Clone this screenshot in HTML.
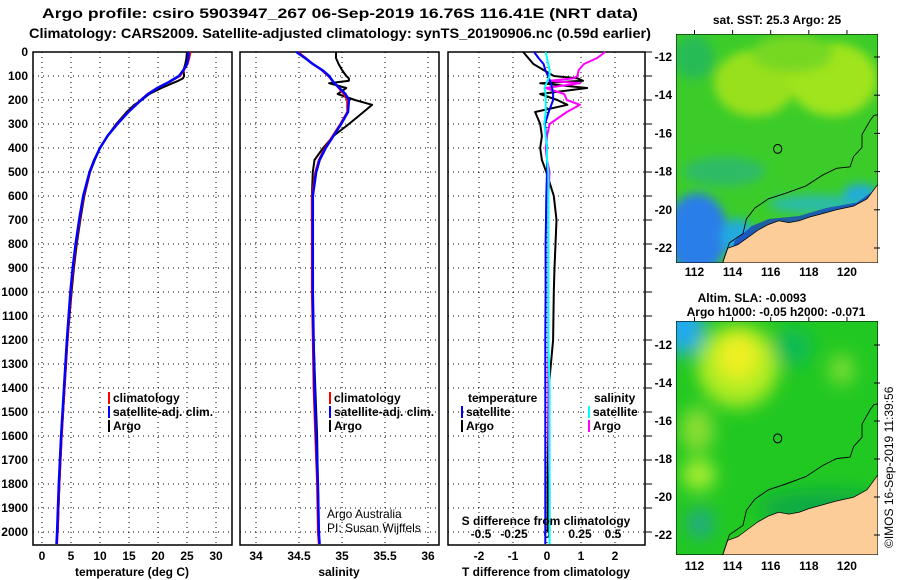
<!DOCTYPE html>
<html><head><meta charset="utf-8"><style>
html,body{margin:0;padding:0;background:#fff}
svg{display:block;font-family:"Liberation Sans",sans-serif}
</style></head><body>
<svg id="fig" width="900" height="580" viewBox="0 0 900 580">
<defs>
<filter id="blr" x="-10%" y="-10%" width="120%" height="120%"><feGaussianBlur stdDeviation="14"/></filter>
<filter id="blr2" x="-10%" y="-10%" width="120%" height="120%"><feGaussianBlur stdDeviation="24"/></filter>
<clipPath id="c1"><rect x="58" y="96" width="594" height="624"/></clipPath>
<clipPath id="c2"><rect x="58" y="880" width="594" height="624"/></clipPath>
</defs>
<g font-weight="bold" font-size="13.5" text-anchor="middle">
<text x="340" y="18" textLength="596" lengthAdjust="spacingAndGlyphs">Argo profile: csiro 5903947_267 06-Sep-2019 16.76S 116.41E (NRT data)</text>
<text x="340" y="38" textLength="622" lengthAdjust="spacingAndGlyphs">Climatology: CARS2009. Satellite-adjusted climatology: synTS_20190906.nc (0.59d earlier)</text>
</g>
<g id="panels"></g>

<!-- top map -->
<svg x="676" y="34" width="202" height="229" viewBox="58 96 594 624" preserveAspectRatio="none">
<g clip-path="url(#c1)">
<rect x="58" y="96" width="594" height="624" fill="#3ccc2a"/>
<g filter="url(#blr)">
<ellipse cx="290" cy="230" rx="120" ry="90" fill="#99e01c"/>
<ellipse cx="520" cy="220" rx="130" ry="100" fill="#9fe41c"/>
<ellipse cx="400" cy="150" rx="120" ry="50" fill="#77d822"/>
<ellipse cx="110" cy="160" rx="60" ry="60" fill="#28bb55"/>
<ellipse cx="200" cy="470" rx="120" ry="40" fill="#2ebb66"/>
<ellipse cx="120" cy="640" rx="90" ry="110" fill="#2a7ee8"/>
<ellipse cx="240" cy="650" rx="50" ry="50" fill="#22aadd"/>
<ellipse cx="470" cy="560" rx="140" ry="25" fill="#2abbaa"/>
<ellipse cx="600" cy="530" rx="50" ry="25" fill="#22aadd"/>
</g>
<path d="M215,720 L230,660 L280,620 L330,600 L420,592 L500,570 L590,555 L652,515 L652,720 Z" fill="#1a44bb" opacity="0.8"/>
<path d="M195,720 L210,680 L240,670 L270,650 L300,630 L330,615 L360,605 L390,610 L420,605 L450,595 L490,585 L530,575 L580,565 L620,545 L640,520 L652,505 L652,720 Z" fill="#fccc99" stroke="#000" stroke-width="2"/>
<path d="M195,720 L215,665 L255,640 L265,600 L290,570 L330,545 L380,530 L440,510 L490,480 L530,462 L570,458 L580,430 L605,405 L605,370 L630,330 L640,318 L652,316" fill="none" stroke="#000" stroke-width="2.5"/>
<circle cx="357" cy="409" r="12" fill="none" stroke="#000" stroke-width="3"/>
</g>
<rect x="58" y="96" width="594" height="624" fill="none" stroke="#000" stroke-width="3"/>
</svg>

<!-- bottom map -->
<svg x="676" y="321" width="202" height="234" viewBox="58 880 594 624" preserveAspectRatio="none">
<g clip-path="url(#c2)">
<rect x="58" y="880" width="594" height="624" fill="#22c822"/>
<g filter="url(#blr2)">
<ellipse cx="240" cy="1000" rx="120" ry="110" fill="#b0ec22"/>
<ellipse cx="240" cy="975" rx="60" ry="60" fill="#eef020"/>
<ellipse cx="80" cy="900" rx="60" ry="70" fill="#22aaee"/>
<ellipse cx="120" cy="1170" rx="50" ry="60" fill="#88dd33"/>
<ellipse cx="125" cy="1290" rx="50" ry="40" fill="#aaee33"/>
<ellipse cx="545" cy="1010" rx="40" ry="40" fill="#77dd33"/>
<ellipse cx="400" cy="950" rx="60" ry="50" fill="#11bb55"/>
<ellipse cx="130" cy="1420" rx="40" ry="40" fill="#22aa88"/>
<ellipse cx="500" cy="1380" rx="200" ry="50" fill="#11aa44"/>
</g>
<path d="M195,1505 L210,1465 L240,1455 L270,1435 L300,1415 L330,1400 L360,1390 L390,1395 L420,1390 L450,1380 L490,1370 L530,1360 L580,1350 L620,1330 L640,1305 L652,1290 L652,1505 Z" fill="#fccc99" stroke="#000" stroke-width="2"/>
<path d="M195,1505 L215,1450 L255,1425 L265,1385 L290,1355 L330,1330 L380,1315 L440,1295 L490,1265 L530,1247 L570,1243 L580,1215 L605,1190 L605,1155 L630,1115 L640,1103 L652,1101" fill="none" stroke="#000" stroke-width="2.5"/>
<circle cx="357" cy="1193" r="12" fill="none" stroke="#000" stroke-width="3"/>
</g>
<rect x="58" y="880" width="594" height="624" fill="none" stroke="#000" stroke-width="3"/>
</svg>

<g font-weight="bold" font-size="12">
<text x="777" y="24" text-anchor="middle">sat. SST: 25.3 Argo: 25</text>
<text x="752" y="302" text-anchor="middle">Altim. SLA: -0.0093</text>
<text x="776" y="316" text-anchor="middle">Argo h1000: -0.05 h2000: -0.071</text>
</g>
<g id="maptick"></g>
<text transform="translate(893,548) rotate(-90)" font-size="12">©IMOS 16-Sep-2019 11:39:56</text>
</svg>
<script>
// ---- data ----
const climDepth=[0,25,50,75,100,125,150,175,200,250,300,350,400,450,500,600,700,800,900,1000,1200,1400,1600,1800,2000,2050];
const tempClim=[25.6,25.4,25.1,24.5,23.8,22.0,19.8,18.2,17.0,14.8,12.9,11.3,10.0,9.0,8.3,7.2,6.5,5.9,5.4,5.0,4.4,3.9,3.4,3.0,2.7,2.6];
const tempSat=[25.3,25.2,25.0,24.4,23.6,21.9,19.9,18.3,17.1,14.9,13.0,11.3,10.0,9.0,8.2,7.1,6.4,5.8,5.3,4.9,4.3,3.8,3.3,2.9,2.6,2.5];
const salClim=[34.49,34.58,34.66,34.76,34.84,34.9,34.96,35.02,35.06,35.06,34.98,34.89,34.80,34.73,34.69,34.65,34.65,34.65,34.65,34.65,34.66,34.67,34.69,34.71,34.72,34.73];
const salSat=[34.47,34.57,34.66,34.77,34.85,34.9,34.97,35.04,35.08,35.07,34.99,34.9,34.81,34.74,34.70,34.66,34.66,34.66,34.66,34.66,34.67,34.68,34.70,34.72,34.73,34.74];
const argoDepth=[0,25,50,75,100,110,120,130,150,175,200,220,250,300,350,400,450,500,600,700,800,900,1000,1200,1400,1600,1800,2000];
const tempArgo=[25.0,24.9,24.7,24.4,24.5,24.3,23.5,22.5,20.6,18.5,17.2,15.9,14.6,12.8,11.3,10.0,9.1,8.3,7.3,6.6,6.0,5.5,5.1,4.4,3.9,3.4,3.0,2.7];
const salArgo=[34.93,34.93,34.96,35.0,35.05,35.08,35.08,34.85,35.05,34.95,35.15,35.35,35.25,35.08,34.9,34.78,34.68,34.66,34.65,34.65,34.66,34.66,34.66,34.67,34.69,34.71,34.72,34.73];
const dTsat=[-0.38,-0.25,-0.1,-0.05,0.03,0.1,0.15,0.18,0.18,0.05,-0.06,-0.03,0,0,0,-0.02,-0.03,-0.04,-0.04,-0.04,-0.05,-0.05,-0.05,-0.05,-0.05,-0.05];
const dTargo=[-0.7,-0.55,-0.4,-0.1,0.2,0.9,1.06,-0.2,1.18,-0.2,0.3,0.6,-0.35,-0.2,-0.15,-0.2,-0.15,-0.02,0.2,0.28,0.25,0.22,0.2,0.18,0.05,0.03,0.02,0.02];
const dSsat=[-0.01,0.0,0.01,0.02,0.02,0.0,-0.02,-0.01,-0.01,-0.01,-0.02,-0.01,0,0,0.01,0.01,0.01,0.01,0.01,0.01,0.01,0.02,0.02,0.02,0.02,0.02];
const dSargo=[0.44,0.38,0.28,0.24,0.23,0.2,0.02,0.25,-0.01,0.13,0.15,0.25,0.15,0.02,0.0,-0.01,0.0,0.02,0.01,0.01,0.01,0.01,0.01,0.01,0.01,0.01,0.02,0.02];
const depthTicks=[0,100,200,300,400,500,600,700,800,900,1000,1100,1200,1300,1400,1500,1600,1700,1800,1900,2000];
const tempTicks=[0,5,10,15,20,25,30];
const salTicks=[34,34.5,35,35.5,36];
const dTTicks=[-2,-1,0,1,2];
const dSTicks=[-0.5,-0.25,0,0.25,0.5];
const latTicks=[-12,-14,-16,-18,-20,-22];
const lonTicks=[112,114,116,118,120];

const NS='http://www.w3.org/2000/svg';
const root=document.getElementById('panels');
function mk(tag,attrs,parent,txt){const e=document.createElementNS(NS,tag);for(const k in attrs)e.setAttribute(k,attrs[k]);if(txt!==undefined)e.textContent=txt;(parent||root).appendChild(e);return e;}
const yD=d=>52+d*0.24;
const TOP=52,BOT=545;
const panels=[
 {x0:33,x1:232,sx:v=>42+v*5.8,ticks:tempTicks,name:'temperature'},
 {x0:240,x1:439,sx:v=>256+(v-34)*86,ticks:salTicks,name:'salinity'},
 {x0:448,x1:645,sx:v=>547+v*34,ticks:dTTicks,name:'difference'}
];
const sxS=v=>547+v*132;
panels.forEach(p=>{
 const g=mk('g',{});
 
 
 depthTicks.forEach(d=>{const l=mk('line',{x1:p.x0,x2:p.x1,y1:yD(d),y2:yD(d),stroke:'#000','stroke-width':1,'stroke-dasharray':'1,4'},g);});
 p.ticks.forEach(t=>{const x=p.sx(t);const l=mk('line',{x1:x,x2:x,y1:TOP,y2:BOT,stroke:'#000','stroke-width':1,'stroke-dasharray':'1,4'},g);
  const tx=mk('text',{x:x,y:560,'text-anchor':'middle','font-size':12,'font-weight':'bold'},g,String(t));});
 const r=mk('rect',{x:p.x0,y:TOP,width:p.x1-p.x0,height:BOT-TOP,fill:'none',stroke:'#000','stroke-width':1.5},g);
 
});
depthTicks.forEach(d=>{const t=mk('text',{x:28,y:yD(d)+4,'text-anchor':'end','font-size':12,'font-weight':'bold'},root,String(d));
 const l=mk('line',{x1:645,x2:652,y1:yD(d),y2:yD(d),stroke:'#000'});});
dSTicks.forEach(t=>{const tx=mk('text',{x:sxS(t),y:538,'text-anchor':'middle','font-size':12,'font-weight':'bold'},root,String(t));});
function line(xs,ds,sx,color,w,name){
 const pts=xs.map((v,i)=>sx(v).toFixed(1)+','+yD(ds[i]).toFixed(1)).join(' ');
 const pl=mk('polyline',{points:pts,fill:'none',stroke:color,'stroke-width':w,'stroke-linejoin':'round'});
 
 
}
const P=panels;
line(tempArgo,argoDepth,P[0].sx,'#000',2,'argo-temperature-line');
line(tempClim,climDepth,P[0].sx,'#f00',2,'climatology-temperature-line');
line(tempSat,climDepth,P[0].sx,'#00f',2.5,'satellite-temperature-line');
line(salArgo,argoDepth,P[1].sx,'#000',2,'argo-salinity-line');
line(salClim,climDepth,P[1].sx,'#f00',2,'climatology-salinity-line');
line(salSat,climDepth,P[1].sx,'#00f',2.5,'satellite-salinity-line');
line(dTargo,argoDepth,P[2].sx,'#000',2,'argo-t-diff-line');
line(dSargo,argoDepth,sxS,'#f0f',2,'argo-s-diff-line');
line(dTsat,climDepth,P[2].sx,'#00f',2,'satellite-t-diff-line');
line(dSsat,climDepth,sxS,'#0ff',2,'satellite-s-diff-line');
// labels
function txt(x,y,s,name,opt){const t=mk('text',Object.assign({x:x,y:y,'font-size':12,'font-weight':'bold'},opt||{}),root,s);return t;}
txt(132,576,'temperature (deg C)','x-axis-title-temperature',{'text-anchor':'middle'});
txt(339,576,'salinity','x-axis-title-salinity',{'text-anchor':'middle'});
txt(546,576,'T difference from climatology','x-axis-title-t-diff',{'text-anchor':'middle'});
txt(546,525,'S difference from climatology','s-diff-title',{'text-anchor':'middle'});
function leg(x,y,c,s,name){const r=mk('rect',{x:x,y:y-10,width:2,height:12,fill:c});txt(x+5,y,s,name);}
leg(108,402,'#f00','climatology','legend-climatology');
leg(108,416,'#00f','satellite-adj. clim.','legend-satellite');
leg(108,430,'#000','Argo','legend-argo');
leg(329,402,'#f00','climatology','legend-climatology-sal');
leg(329,416,'#00f','satellite-adj. clim.','legend-satellite-sal');
leg(329,430,'#000','Argo','legend-argo-sal');
txt(468,402,'temperature','legend-temperature-heading');
leg(461,416,'#00f','satellite','legend-t-satellite');
leg(461,430,'#000','Argo','legend-t-argo');
txt(594,402,'salinity','legend-salinity-heading');
leg(588,416,'#0ff','satellite','legend-s-satellite');
leg(588,430,'#f0f','Argo','legend-s-argo');
txt(327,518,'Argo Australia','credit-line-1',{'font-weight':'normal'});
txt(327,532,'PI: Susan Wijffels','credit-line-2',{'font-weight':'normal'});
// map ticks
const mt=document.getElementById('maptick');
[[34,263,57,248,272],[321,555,345,535,566]].forEach(m=>{
 const k=(m[3]-m[2])/10;
 latTicks.forEach(l=>{const y=m[2]+(-12-l)*k;const t=mk('text',{x:672,y:y+4,'text-anchor':'end','font-size':12,'font-weight':'bold'},mt,String(l));
  const a=mk('line',{x1:874,x2:880,y1:y,y2:y,stroke:'#000'},mt);});
 lonTicks.forEach(l=>{const x=676+(l-111.03)/10.6*202;const t=mk('text',{x:x,y:m[4]+4,'text-anchor':'middle','font-size':12,'font-weight':'bold'},mt,String(l));
  const a=mk('line',{x1:x,x2:x,y1:m[0],y2:m[0]-4,stroke:'#000'},mt);});
});
</script>
</body></html>
